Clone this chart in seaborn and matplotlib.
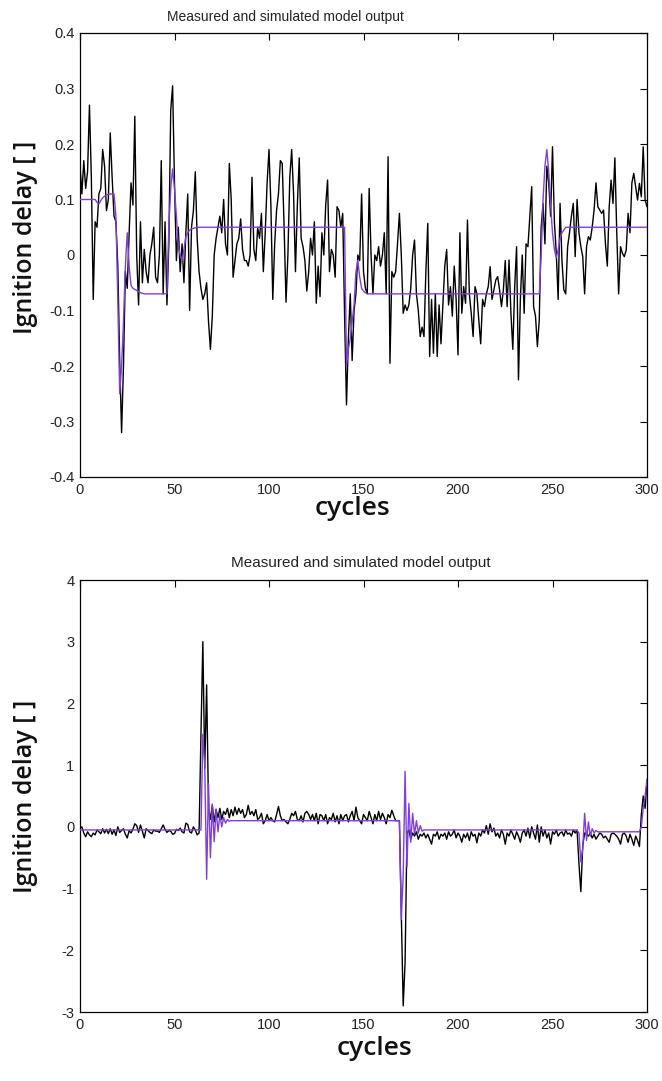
import numpy as np
import pandas as pd
import matplotlib
matplotlib.use("Agg")
import matplotlib.pyplot as plt
from matplotlib import font_manager
import seaborn as sns

# ---------------- data ----------------
cycles = list(range(301))

top_measured = [
    0.16, 0.11, 0.17, 0.12, 0.15, 0.27, 0.14, -0.08, 0.06, 0.05,
    0.11, 0.12, 0.19, 0.16, 0.08, 0.10, 0.22, 0.14, 0.07, 0.06,
    -0.02, -0.19, -0.32, -0.20, -0.03, -0.06, 0.04, 0.13, 0.09, 0.25,
    0.00, -0.09, 0.06, -0.05, 0.01, -0.03, -0.05, 0.00, 0.02, 0.05,
    -0.04, -0.05, 0.00, 0.17, -0.07, 0.06, -0.09, 0.02, 0.26, 0.305,
    0.13, -0.01, 0.05, -0.03, 0.02, -0.05, 0.04, 0.11, -0.10, 0.05,
    0.08, 0.15, 0.03, -0.03, -0.06, -0.08, -0.07, -0.05, -0.12, -0.17,
    -0.11, 0.00, 0.03, 0.05, 0.07, 0.04, 0.10, 0.02, 0.00, 0.165,
    0.10, -0.04, -0.01, 0.02, 0.03, 0.065, 0.01, -0.01, -0.01, -0.02,
    0.00, 0.14, 0.01, -0.01, 0.05, 0.03, 0.075, -0.03, 0.04, 0.13,
    0.19, 0.09, -0.08, 0.02, 0.08, 0.11, 0.17, 0.165, 0.05, -0.085,
    0.00, 0.14, 0.19, 0.11, -0.03, 0.09, 0.175, 0.03, 0.015, -0.01,
    -0.065, -0.03, 0.03, 0.00, 0.06, -0.087, -0.02, -0.075, 0.04, 0.00,
    0.09, 0.135, -0.03, 0.01, 0.00, -0.04, 0.087, 0.08, 0.05, 0.075,
    -0.11, -0.27, -0.15, -0.07, -0.19, -0.10, -0.07, 0.00, -0.01, 0.11,
    -0.03, -0.06, -0.07, 0.12, 0.00, -0.07, 0.00, -0.01, 0.015, -0.02,
    0.00, 0.04, -0.07, 0.177, -0.195, -0.03, -0.04, -0.03, 0.02, 0.075,
    0.00, -0.105, -0.09, -0.10, -0.09, -0.06, 0.00, 0.027, -0.07, -0.10,
    -0.147, -0.13, -0.147, -0.03, 0.057, -0.183, -0.08, -0.177, -0.07, -0.183,
    -0.09, -0.16, -0.09, -0.02, 0.01, -0.09, -0.057, -0.11, -0.02, -0.08,
    -0.18, 0.04, -0.105, -0.057, -0.087, 0.063, -0.07, -0.105, -0.147, -0.057,
    -0.07, -0.117, -0.16, -0.08, -0.093, -0.07, -0.057, -0.021, -0.08, -0.063,
    -0.045, -0.039, -0.063, -0.093, -0.063, -0.01, -0.093, -0.009, -0.105, -0.17,
    -0.057, 0.015, -0.225, -0.08, 0.00, -0.105, 0.02, 0.015, 0.07, 0.123,
    -0.093, -0.11, -0.165, -0.117, 0.05, 0.093, 0.02, 0.16, 0.13, 0.07,
    0.195, 0.06, 0.003, -0.08, 0.093, -0.01, -0.063, -0.07, 0.015, 0.04,
    0.07, 0.093, -0.003, 0.10, 0.04, 0.015, -0.003, -0.07, 0.015, 0.033,
    0.027, 0.05, 0.081, 0.13, 0.087, 0.081, 0.075, 0.081, 0.021, -0.02,
    0.087, 0.135, 0.093, 0.175, 0.04, -0.07, 0.015, 0.003, -0.003, 0.009,
    0.075, 0.04, 0.13, 0.147, 0.123, 0.099, 0.129, 0.105, 0.195, 0.099,
    0.087,
]

top_model = [
    0.100, 0.100, 0.100, 0.100, 0.100, 0.100, 0.100, 0.100, 0.100, 0.095,
    0.092, 0.098, 0.103, 0.106, 0.108, 0.109, 0.110, 0.110, 0.110, 0.070,
    -0.080, -0.250, -0.200, -0.120, -0.020, 0.040, -0.020, -0.055, -0.060, -0.062,
    -0.064, -0.066, -0.068, -0.069, -0.070, -0.070, -0.070, -0.070, -0.070, -0.070,
    -0.070, -0.070, -0.070, -0.070, -0.070, -0.070, -0.070, 0.050, 0.120, 0.155,
    0.120, 0.070, 0.015, 0.000, -0.010, 0.010, 0.033, 0.040, 0.045, 0.047,
    0.048, 0.049, 0.050, 0.050, 0.050, 0.050, 0.050, 0.050, 0.050, 0.050,
    0.050, 0.050, 0.050, 0.050, 0.050, 0.050, 0.050, 0.050, 0.050, 0.050,
    0.050, 0.050, 0.050, 0.050, 0.050, 0.050, 0.050, 0.050, 0.050, 0.050,
    0.050, 0.050, 0.050, 0.050, 0.050, 0.050, 0.050, 0.050, 0.050, 0.050,
    0.050, 0.050, 0.050, 0.050, 0.050, 0.050, 0.050, 0.050, 0.050, 0.050,
    0.050, 0.050, 0.050, 0.050, 0.050, 0.050, 0.050, 0.050, 0.050, 0.050,
    0.050, 0.050, 0.050, 0.050, 0.050, 0.050, 0.050, 0.050, 0.050, 0.050,
    0.050, 0.050, 0.050, 0.050, 0.050, 0.050, 0.050, 0.050, 0.050, 0.050,
    0.050, -0.200, -0.170, -0.150, -0.120, -0.090, -0.030, -0.010, -0.040, -0.060,
    -0.065, -0.068, -0.070, -0.070, -0.070, -0.070, -0.070, -0.070, -0.070, -0.070,
    -0.070, -0.070, -0.070, -0.070, -0.070, -0.070, -0.070, -0.070, -0.070, -0.070,
    -0.070, -0.070, -0.070, -0.070, -0.070, -0.070, -0.070, -0.070, -0.070, -0.070,
    -0.070, -0.070, -0.070, -0.070, -0.070, -0.070, -0.070, -0.070, -0.070, -0.070,
    -0.070, -0.070, -0.070, -0.070, -0.070, -0.070, -0.070, -0.070, -0.070, -0.070,
    -0.070, -0.070, -0.070, -0.070, -0.070, -0.070, -0.070, -0.070, -0.070, -0.070,
    -0.070, -0.070, -0.070, -0.070, -0.070, -0.070, -0.070, -0.070, -0.070, -0.070,
    -0.070, -0.070, -0.070, -0.070, -0.070, -0.070, -0.070, -0.070, -0.070, -0.070,
    -0.070, -0.070, -0.070, -0.070, -0.070, -0.070, -0.070, -0.070, -0.070, -0.070,
    -0.070, -0.070, -0.070, -0.070, 0.000, 0.100, 0.160, 0.190, 0.150, 0.090,
    0.040, 0.010, -0.005, 0.010, 0.030, 0.040, 0.045, 0.050, 0.050, 0.050,
    0.050, 0.050, 0.050, 0.050, 0.050, 0.050, 0.050, 0.050, 0.050, 0.050,
    0.050, 0.050, 0.050, 0.050, 0.050, 0.050, 0.050, 0.050, 0.050, 0.050,
    0.050, 0.050, 0.050, 0.050, 0.050, 0.050, 0.050, 0.050, 0.050, 0.050,
    0.050, 0.050, 0.050, 0.050, 0.050, 0.050, 0.050, 0.050, 0.050, 0.050,
    0.050,
]

bottom_measured = [
    -0.02, 0.00, -0.10, -0.16, -0.08, -0.13, -0.16, -0.10, -0.13, -0.05,
    -0.08, -0.11, -0.03, -0.10, -0.04, -0.11, -0.03, -0.12, -0.05, -0.14,
    0.00, -0.09, -0.06, -0.03, -0.12, -0.18, -0.06, -0.10, -0.04, 0.05,
    0.02, -0.09, 0.03, -0.07, -0.18, -0.03, -0.06, -0.09, -0.11, -0.05,
    -0.07, -0.07, -0.09, -0.03, 0.03, -0.04, -0.09, -0.06, -0.07, -0.12,
    -0.11, -0.04, -0.06, -0.02, -0.08, -0.10, 0.06, 0.04, -0.08, -0.10,
    0.00, -0.05, -0.13, -0.10, 1.50, 3.00, 0.95, 2.30, 0.30, 0.12,
    0.35, 0.08, 0.28, 0.15, 0.30, 0.12, 0.25, 0.20, 0.30, 0.15,
    0.28, 0.18, 0.32, 0.20, 0.30, 0.22, 0.28, 0.15, 0.20, 0.35,
    0.20, 0.25, 0.18, 0.28, 0.12, 0.15, 0.22, 0.05, 0.10, 0.20,
    0.10, 0.15, 0.10, 0.08, 0.20, 0.33, 0.18, 0.10, 0.12, 0.08,
    0.05, 0.12, 0.22, 0.18, 0.25, 0.12, 0.10, 0.18, 0.08, 0.22,
    0.25, 0.20, 0.12, 0.20, 0.10, 0.22, 0.05, 0.20, 0.18, 0.10,
    0.20, 0.05, 0.15, 0.12, 0.22, 0.08, 0.18, 0.05, 0.20, 0.10,
    0.18, 0.20, 0.08, 0.18, 0.25, 0.10, 0.32, 0.15, 0.10, 0.05,
    0.20, 0.15, 0.10, 0.25, 0.15, 0.05, 0.20, 0.10, 0.25, 0.12,
    0.22, 0.15, 0.05, 0.20, 0.15, 0.27, 0.18, 0.10, 0.10, 0.10,
    -1.40, -2.90, -2.20, -0.10, -0.05, -0.20, -0.10, -0.15, -0.08, -0.20,
    -0.12, -0.15, -0.10, -0.18, -0.12, -0.20, -0.28, -0.12, -0.15, -0.08,
    -0.20, -0.12, -0.15, -0.10, -0.20, -0.08, -0.15, -0.12, -0.05, -0.18,
    -0.10, -0.15, -0.25, -0.12, -0.18, -0.10, -0.22, -0.08, -0.15, -0.12,
    -0.26, -0.10, -0.15, -0.05, -0.10, 0.02, -0.12, 0.05, -0.08, -0.02,
    -0.15, -0.10, -0.18, -0.05, -0.12, -0.28, -0.10, -0.15, -0.05, -0.12,
    -0.20, -0.08, -0.15, -0.25, -0.10, -0.05, -0.15, -0.02, -0.18, 0.00,
    -0.10, -0.20, 0.03, -0.25, 0.00, -0.15, -0.05, -0.18, -0.10, -0.28,
    -0.08, -0.12, -0.05, -0.15, -0.10, -0.08, -0.15, -0.05, -0.12, -0.10,
    -0.15, -0.05, -0.10, -0.05, -0.60, -1.05, -0.30, -0.10, -0.12, -0.15,
    -0.10, -0.18, -0.12, -0.20, -0.15, -0.10, -0.12, -0.18, -0.15, -0.20,
    -0.25, -0.12, -0.10, -0.12, -0.15, -0.20, -0.28, -0.12, -0.10, -0.15,
    -0.25, -0.12, -0.20, -0.30, -0.15, -0.22, -0.32, 0.20, 0.50, 0.30,
    0.75,
]

bottom_model = [
    -0.05, -0.05, -0.05, -0.05, -0.05, -0.05, -0.05, -0.05, -0.05, -0.05,
    -0.05, -0.05, -0.05, -0.05, -0.05, -0.05, -0.05, -0.05, -0.05, -0.05,
    -0.05, -0.05, -0.05, -0.05, -0.05, -0.05, -0.05, -0.05, -0.05, -0.05,
    -0.05, -0.05, -0.05, -0.05, -0.05, -0.05, -0.05, -0.05, -0.05, -0.05,
    -0.05, -0.05, -0.05, -0.05, -0.05, -0.05, -0.05, -0.05, -0.05, -0.05,
    -0.05, -0.05, -0.05, -0.05, -0.05, -0.05, -0.05, -0.05, -0.05, -0.05,
    -0.05, -0.05, -0.05, -0.05, -0.05, 1.50, 1.00, -0.85, 0.70, -0.50,
    0.37, -0.24, 0.29, -0.08, 0.20, 0.00, 0.15, 0.06, 0.12, 0.09,
    0.10, 0.10, 0.10, 0.10, 0.10, 0.10, 0.10, 0.10, 0.10, 0.10,
    0.10, 0.10, 0.10, 0.10, 0.10, 0.10, 0.10, 0.10, 0.10, 0.10,
    0.10, 0.10, 0.10, 0.10, 0.10, 0.10, 0.10, 0.10, 0.10, 0.10,
    0.10, 0.10, 0.10, 0.10, 0.10, 0.10, 0.10, 0.10, 0.10, 0.10,
    0.10, 0.10, 0.10, 0.10, 0.10, 0.10, 0.10, 0.10, 0.10, 0.10,
    0.10, 0.10, 0.10, 0.10, 0.10, 0.10, 0.10, 0.10, 0.10, 0.10,
    0.10, 0.10, 0.10, 0.10, 0.10, 0.10, 0.10, 0.10, 0.10, 0.10,
    0.10, 0.10, 0.10, 0.10, 0.10, 0.10, 0.10, 0.10, 0.10, 0.10,
    0.10, 0.10, 0.10, 0.10, 0.10, 0.10, 0.10, 0.10, 0.10, 0.10,
    -1.50, -0.80, 0.90, -0.65, 0.38, -0.25, 0.22, -0.12, 0.10, -0.10,
    0.02, -0.07, -0.05, -0.05, -0.05, -0.05, -0.05, -0.05, -0.05, -0.05,
    -0.05, -0.05, -0.05, -0.05, -0.05, -0.05, -0.05, -0.05, -0.05, -0.05,
    -0.05, -0.05, -0.05, -0.05, -0.05, -0.05, -0.05, -0.05, -0.05, -0.05,
    -0.05, -0.05, -0.05, -0.05, -0.05, -0.05, -0.05, -0.05, -0.05, -0.05,
    -0.05, -0.05, -0.05, -0.05, -0.05, -0.05, -0.05, -0.05, -0.05, -0.05,
    -0.05, -0.05, -0.05, -0.05, -0.05, -0.05, -0.05, -0.05, -0.05, -0.05,
    -0.05, -0.05, -0.05, -0.05, -0.05, -0.05, -0.05, -0.05, -0.05, -0.05,
    -0.05, -0.05, -0.05, -0.05, -0.05, -0.05, -0.05, -0.05, -0.05, -0.05,
    -0.05, -0.05, -0.05, -0.06, -0.10, -0.57, -0.35, 0.22, -0.22, 0.08,
    -0.15, -0.03, -0.10, -0.06, -0.08, -0.08, -0.08, -0.08, -0.08, -0.08,
    -0.08, -0.08, -0.08, -0.08, -0.08, -0.08, -0.08, -0.08, -0.08, -0.08,
    -0.08, -0.08, -0.08, -0.08, -0.08, -0.08, -0.08, 0.00, 0.30, 0.50,
    0.78,
]

x_ticks = [0, 50, 100, 150, 200, 250, 300]
top_yticks = [-0.4, -0.3, -0.2, -0.1, 0.0, 0.1, 0.2, 0.3, 0.4]
top_yticklabels = ["-0.4", "-0.3", "-0.2", "-0.1", "0", "0.1", "0.2", "0.3", "0.4"]
bottom_yticks = [-3, -2, -1, 0, 1, 2, 3, 4]
bottom_yticklabels = ["-3", "-2", "-1", "0", "1", "2", "3", "4"]
title_text = "Measured and simulated model output"
ylabel_text = "Ignition delay [ ]"
xlabel_text = "cycles"

MEAS_COLOR = "black"
MODEL_COLOR = "#7E3FD6"

# ---------------- style ----------------
sns.set_theme(style="white")
available = {f.name for f in font_manager.fontManager.ttflist}
narrow = "Liberation Sans Narrow" if "Liberation Sans Narrow" in available else "Liberation Sans"
plt.rcParams["font.family"] = ["Liberation Sans", "DejaVu Sans"]
label_family = ["Open Sans", "Lato", "DejaVu Sans"]

fig = plt.figure(figsize=(6.62, 10.81), dpi=100)
W, H = 662.0, 1081.0
ax1 = fig.add_axes([80 / W, 1 - 477 / H, 567 / W, 444 / H])
ax2 = fig.add_axes([80 / W, 1 - 1012 / H, 567 / W, 432 / H])


def draw(ax, meas, model, ylim, yticks, yticklabels, tick_family, tick_size):
    df = pd.DataFrame({"cycle": cycles[:len(meas)], "value": meas})
    dm = pd.DataFrame({"cycle": cycles[:len(model)], "value": model})
    sns.lineplot(data=df, x="cycle", y="value", color=MEAS_COLOR, linewidth=1.0,
                 estimator=None, sort=False, ax=ax, zorder=2)
    sns.lineplot(data=dm, x="cycle", y="value", color=MODEL_COLOR, linewidth=1.0,
                 estimator=None, sort=False, ax=ax, zorder=3)
    ax.set_xlim(0, 300)
    ax.set_ylim(*ylim)
    ax.set_xticks(x_ticks)
    ax.set_xticklabels([str(t) for t in x_ticks])
    ax.set_yticks(yticks)
    ax.set_yticklabels(yticklabels)
    ax.tick_params(direction="in", top=True, right=True, length=5, width=0.8,
                   color="black", labelcolor="#222222", labelsize=tick_size, pad=4)
    for lab in ax.get_xticklabels() + ax.get_yticklabels():
        lab.set_family(tick_family)
    for s in ax.spines.values():
        s.set_color("black")
        s.set_linewidth(0.9)
    ax.grid(False)


draw(ax1, top_measured, top_model, (-0.4, 0.4), top_yticks, top_yticklabels, narrow, 10.5)
draw(ax2, bottom_measured, bottom_model, (-3, 4), bottom_yticks, bottom_yticklabels,
     "Liberation Sans", 10.5)

for ax, ycoord, xl_x, xl_y in [(ax1, 0.54, 0.48, -0.042), (ax2, 0.5, 0.52, -0.055)]:
    ax.set_ylabel(ylabel_text, family=label_family, fontsize=18, fontweight="semibold",
                  color="#111111")
    ax.yaxis.set_label_coords(-0.074, ycoord)
    ax.set_xlabel(xlabel_text, family=label_family, fontsize=19, fontweight="semibold",
                  color="#111111", va="top")
    ax.xaxis.set_label_coords(xl_x, xl_y)

fig.text(285 / W, 1 - 21 / H, title_text, ha="center", va="baseline",
         fontsize=10, family=narrow, color="#222222")
fig.text(361 / W, 1 - 567 / H, title_text, ha="center", va="baseline",
         fontsize=11, family="Liberation Sans", color="#222222")

fig.savefig("out.png", dpi=100, facecolor="white")
